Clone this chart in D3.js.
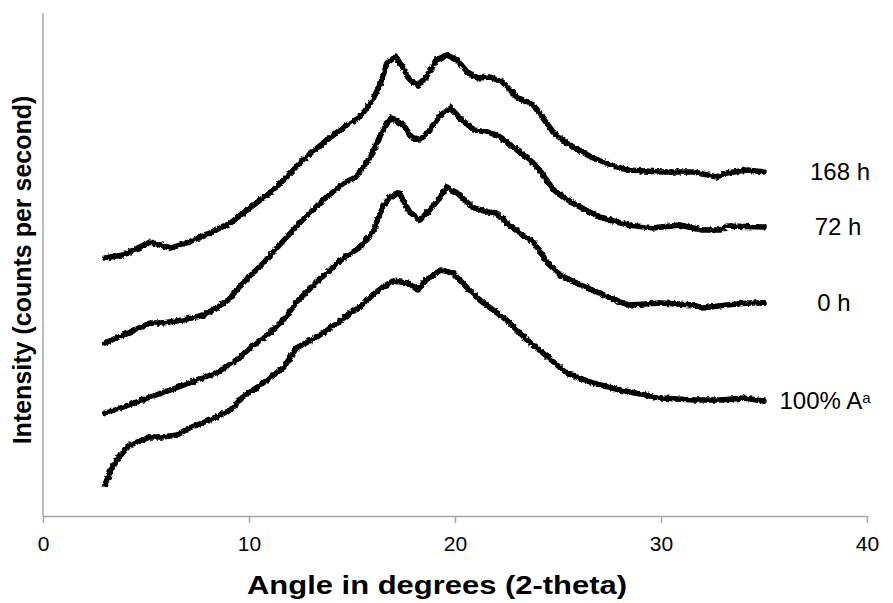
<!DOCTYPE html>
<html>
<head>
<meta charset="utf-8">
<script src="https://cdn.jsdelivr.net/npm/d3@7"></script>
<style>
  body { margin: 0; background: #fff; }
  text { font-family: "Liberation Sans", Arial, sans-serif; fill: #000; }
</style>
</head>
<body>
<div id="chart"></div>
<script>
// x ticks and series (angle in degrees, intensity in arbitrary counts)
const xTicks = [0, 10, 20, 30, 40];
const seriesNames = ['168 h', '72 h', '0 h', '100% A'];

const h168 = [[3.0,258],[3.9,261],[5.2,274],[6.2,268],[7.1,274],[8.1,283],[9.1,293],[10.1,309],[11.0,323],[11.7,336],
  [12.6,356],[13.6,373],[14.6,389],[15.4,399],[16.0,416],[16.4,433],[16.7,453],[17.1,459],[17.4,451],[17.8,436],
  [18.2,431],[18.6,439],[19.1,456],[19.6,461],[20.1,456],[20.6,444],[21.1,438],[21.7,439],[22.3,434],[23.0,419],
  [23.8,411],[24.8,383],[25.4,373],[26.7,358],[28.0,348],[28.4,346],[30.0,344],[31.6,344],[32.7,339],[33.2,343],
  [34.2,346],[35.0,344]];

const h72 = [[3.0,173],[3.9,181],[5.2,193],[5.8,193],[6.8,196],[7.8,201],[8.5,209],[9.0,216],[9.7,233],[10.7,253],
  [11.7,276],[12.6,296],[13.6,316],[14.6,333],[15.2,339],[15.9,359],[16.5,386],[16.9,398],[17.5,391],[17.9,379],
  [18.3,376],[18.7,384],[19.3,401],[19.8,408],[20.2,399],[20.9,386],[21.6,384],[22.2,379],[23.2,363],[23.8,353],
  [24.1,346],[24.8,326],[25.7,313],[27.0,299],[28.4,291],[29.6,288],[30.9,291],[32.0,286],[32.9,286],[33.2,290],
  [35.0,289]];

const h0 = [[3.0,103],[3.9,109],[5.2,119],[6.2,126],[7.1,133],[8.5,144],[9.4,156],[10.1,169],[11.0,183],[11.8,199],
  [12.3,214],[13.5,238],[14.4,255],[15.4,269],[16.0,284],[16.5,309],[16.8,318],[17.3,323],[17.8,304],[18.3,296],
  [18.9,309],[19.3,319],[19.6,329],[20.1,323],[20.9,308],[21.6,304],[22.0,303],[22.8,288],[23.8,274],[24.5,253],
  [25.1,241],[26.1,231],[27.0,223],[28.4,211],[30.0,213],[31.6,211],[32.0,208],[33.2,211],[34.2,213],[35.0,213]];

const pureA = [[3.0,31],[3.3,46],[3.7,59],[4.2,71],[5.2,79],[5.8,79],[6.5,81],[7.1,88],[8.1,96],[9.1,106],
  [9.7,119],[10.7,133],[11.7,149],[12.3,168],[13.3,179],[14.3,193],[14.9,203],[15.4,209],[15.7,216],[16.5,229],
  [17.0,235],[17.7,233],[18.2,226],[18.6,236],[19.3,246],[19.9,243],[20.6,228],[21.2,216],[22.5,196],[23.5,176],
  [24.5,159],[25.4,143],[26.7,133],[28.0,126],[30.0,118],[31.6,116],[32.9,116],[34.0,118],[35.0,115]];

const seriesData = [h168, h72, h0, pureA];

const width = 893, height = 603;
const margin = {top: 13, right: 26, bottom: 87, left: 43};

const svg = d3.select("#chart").append("svg")
    .attr("width", width)
    .attr("height", height);

const x = d3.scaleLinear().domain([0, 40]).range([margin.left, width - margin.right]);
const y = d3.scaleLinear().domain([0, 503]).range([height - margin.bottom, margin.top]);

// rough edge to mimic the detector noise
const defs = svg.append("defs");
const filt = defs.append("filter").attr("id", "rough")
    .attr("x", "-5%").attr("y", "-5%").attr("width", "110%").attr("height", "110%");
filt.append("feTurbulence").attr("type", "fractalNoise").attr("baseFrequency", 0.3)
    .attr("numOctaves", 2).attr("seed", 3).attr("result", "noise");
filt.append("feDisplacementMap").attr("in", "SourceGraphic").attr("in2", "noise")
    .attr("scale", 4).attr("xChannelSelector", "R").attr("yChannelSelector", "G");

// axes
const xAxis = svg.append("g")
    .attr("transform", `translate(0,${y(0)})`)
    .call(d3.axisBottom(x).tickValues(xTicks).tickSize(7).tickPadding(13).tickSizeOuter(0));
xAxis.select(".domain").attr("stroke", "#a6a6a6").attr("stroke-width", 1.5);
xAxis.selectAll(".tick line").attr("stroke", "#a6a6a6").attr("stroke-width", 1.5);
xAxis.selectAll(".tick text")
    .style("font-size", "21px")
    .style("font-family", "'Liberation Sans', Arial, sans-serif")
    .attr("fill", "#000");

svg.append("line")
    .attr("x1", x(0)).attr("x2", x(0))
    .attr("y1", y(0)).attr("y2", y(503))
    .attr("stroke", "#a6a6a6").attr("stroke-width", 1.5);

// curves
const line = d3.line().x(d => x(d[0])).y(d => y(d[1]));

svg.append("g").attr("filter", "url(#rough)")
  .selectAll("path")
  .data(seriesData)
  .enter().append("path")
    .attr("d", line)
    .attr("fill", "none")
    .attr("stroke", "#000")
    .attr("stroke-width", 5.5)
    .attr("stroke-linejoin", "round")
    .attr("stroke-linecap", "round");

// series labels at the end of each curve
const labelShift = [76, 74, 70, 61];
seriesData.forEach((s, i) => {
    const last = s[s.length - 1];
    const t = svg.append("text")
        .attr("x", x(last[0]) + labelShift[i])
        .attr("y", y(last[1]))
        .attr("dy", "0.35em")
        .attr("text-anchor", "middle")
        .style("font-size", "24px")
        .text(seriesNames[i]);
    if (i === 3) {
        t.append("tspan").attr("dy", "-0.45em").style("font-size", "15px").text("a");
    }
});

// axis titles
svg.append("text")
    .attr("x", 437)
    .attr("y", 594)
    .attr("text-anchor", "middle")
    .attr("textLength", 380)
    .attr("lengthAdjust", "spacingAndGlyphs")
    .style("font-size", "25px")
    .style("font-weight", "bold")
    .text("Angle in degrees (2-theta)");

svg.append("text")
    .attr("transform", `translate(31,${270}) rotate(-90)`)
    .attr("text-anchor", "middle")
    .style("font-size", "25px")
    .style("font-weight", "bold")
    .text("Intensity (counts per second)");
</script>
</body>
</html>
